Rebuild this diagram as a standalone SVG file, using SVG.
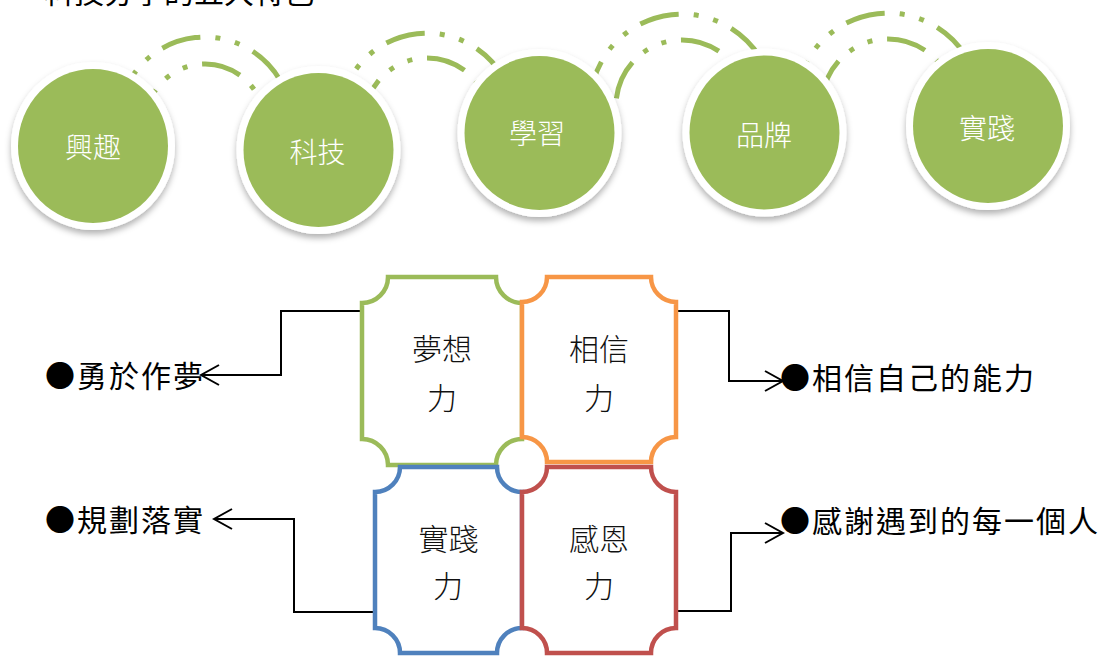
<svg xmlns="http://www.w3.org/2000/svg" width="1101" height="656" viewBox="0 0 1101 656">
<style>
.cjk{font-family:"Noto Sans CJK TC","Noto Sans CJK SC",sans-serif;}
.ring{fill:#fff;filter:url(#sh);}
.disc{fill:#9BBB59;}
.ctext{fill:#fff;font-size:28px;font-weight:300;text-anchor:middle;}
.arc{fill:none;stroke:#9BBB59;stroke-width:5;stroke-dasharray:40 15 5 15 5 15;}
.box{fill:#fff;stroke-width:4.5;}
.btext{fill:#111;font-size:30px;font-weight:300;text-anchor:middle;}
.lbl{fill:#000;font-size:30px;letter-spacing:2px;}
.conn{fill:none;stroke:#000;stroke-width:2;marker-end:url(#arr);}
</style>
<defs>
<filter id="sh" x="-20%" y="-20%" width="140%" height="150%">
<feDropShadow dx="0" dy="4" stdDeviation="3" flood-color="#000" flood-opacity="0.3"/>
</filter>
<marker id="arr" markerUnits="userSpaceOnUse" markerWidth="24" markerHeight="24" viewBox="-22 -12 24 24" refX="0" refY="0" orient="auto">
<path d="M-18,-10 L0,0 L-18,10" fill="none" stroke="#000" stroke-width="2"/>
</marker>
</defs>
<rect width="1101" height="656" fill="#fff"/>
<text class="cjk" x="44" y="3" font-size="30" fill="#000">科技分享的五大特色</text>

<g id="arcs">
<path class="arc" stroke-dashoffset="90.54" d="M118.33,131.58 A87 87 0 0 1 291.15,111.89"/>
<path class="arc" stroke-dashoffset="93.45" d="M145.23,129.23 A60 60 0 0 1 264.42,115.65"/>
<path class="arc" stroke-dashoffset="86.63" d="M339.34,128.67 A88 88 0 0 1 514.14,108.75"/>
<path class="arc" stroke-dashoffset="85.54" d="M364.24,126.49 A63 63 0 0 1 489.39,112.23"/>
<path class="arc" stroke-dashoffset="80.97" d="M590.35,114.02 A92 92 0 0 1 773.10,93.20"/>
<path class="arc" stroke-dashoffset="81.60" d="M616.25,111.75 A66 66 0 0 1 747.36,96.81"/>
<path class="arc" stroke-dashoffset="80.97" d="M796.35,113.02 A92 92 0 0 1 979.10,92.20"/>
<path class="arc" stroke-dashoffset="81.49" d="M822.25,110.75 A66 66 0 0 1 953.36,95.81"/>
</g>

<g id="c1">
<ellipse class="ring" cx="93" cy="146" rx="82" ry="84"/>
<ellipse class="disc" cx="93" cy="146" rx="75" ry="77"/>
<text class="cjk ctext" x="93" y="157.5">興趣</text>
</g>
<g id="c2">
<ellipse class="ring" cx="318.5" cy="150" rx="82" ry="84"/>
<ellipse class="disc" cx="318.5" cy="150" rx="75" ry="77"/>
<text class="cjk ctext" x="317.5" y="162.5">科技</text>
</g>
<g id="c3">
<ellipse class="ring" cx="539.5" cy="133" rx="82" ry="84"/>
<ellipse class="disc" cx="539.5" cy="133" rx="75" ry="77"/>
<text class="cjk ctext" x="537" y="143.5">學習</text>
</g>
<g id="c4">
<ellipse class="ring" cx="764.5" cy="132.5" rx="82" ry="84"/>
<ellipse class="disc" cx="764.5" cy="132.5" rx="75" ry="77"/>
<text class="cjk ctext" x="764" y="145.5">品牌</text>
</g>
<g id="c5">
<ellipse class="ring" cx="988" cy="126" rx="82" ry="84"/>
<ellipse class="disc" cx="988" cy="126" rx="75" ry="77"/>
<text class="cjk ctext" x="987" y="138.5">實踐</text>
</g>

<g id="connectors">
<path class="conn" d="M362,311 H281 V375 H201"/>
<path class="conn" d="M375,612 H294 V519 H214"/>
<path class="conn" d="M676,311 H729 V381 H783"/>
<path class="conn" d="M676,611 H731 V533 H783"/>
</g>

<g id="dream">
<path class="box" stroke="#9BBB59" d="M388,277 H496 A26 26 0 0 0 522,303 V439 A26 26 0 0 0 496,465 H388 A26 26 0 0 0 362,439 V303 A26 26 0 0 0 388,277 Z"/>
<text class="cjk btext" x="442" y="360">夢想</text>
<text class="cjk btext" x="442" y="409">力</text>
</g>
<g id="believe">
<path class="box" stroke="#F79646" d="M547,277 H651 A25 25 0 0 0 676,302 V437 A25 25 0 0 0 651,462 H547 A25 25 0 0 0 522,437 V302 A25 25 0 0 0 547,277 Z"/>
<text class="cjk btext" x="599" y="360">相信</text>
<text class="cjk btext" x="599" y="409">力</text>
</g>
<g id="practice">
<path class="box" stroke="#4F81BD" d="M400,467 H497 A25 25 0 0 0 522,492 V628 A25 25 0 0 0 497,653 H400 A25 25 0 0 0 375,628 V492 A25 25 0 0 0 400,467 Z"/>
<text class="cjk btext" x="448.5" y="550">實踐</text>
<text class="cjk btext" x="448" y="597">力</text>
</g>
<g id="gratitude">
<path class="box" stroke="#C0504D" d="M547,467 H651 A25 25 0 0 0 676,492 V628 A25 25 0 0 0 651,653 H547 A25 25 0 0 0 522,628 V492 A25 25 0 0 0 547,467 Z"/>
<text class="cjk btext" x="599" y="550">感恩</text>
<text class="cjk btext" x="599" y="597">力</text>
</g>

<g id="label-dream"><text class="cjk lbl" x="45" y="387">●勇於作夢</text></g>
<g id="label-practice"><text class="cjk lbl" x="45" y="531">●規劃落實</text></g>
<g id="label-believe"><text class="cjk lbl" x="780" y="389">●相信自己的能力</text></g>
<g id="label-gratitude"><text class="cjk lbl" x="780" y="532">●感謝遇到的每一個人</text></g>
</svg>
